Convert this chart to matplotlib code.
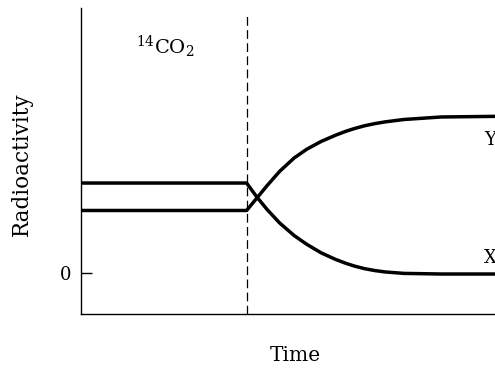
import matplotlib.pyplot as plt

plt.rcParams['font.family'] = ['DejaVu Serif']
plt.rcParams['mathtext.fontset'] = 'dejavuserif'

# Schematic values (arbitrary units)
time = [0, 4.0, 4.25, 4.5, 4.8, 5.15, 5.45, 5.8, 6.15, 6.4, 6.6, 6.85,
        7.1, 7.35, 7.8, 8.7, 10]
y_curve = [40, 40, 48, 56, 65, 73.5, 79, 84, 88, 90.5, 92.2, 94,
           95.4, 96.5, 98, 99.6, 100]
x_curve = [57.5, 57.5, 48.5, 40.5, 32, 24, 18.5, 13, 8.8, 6.3, 4.6, 2.9,
           1.7, 0.8, -0.1, -0.5, -0.5]
pulse_end = 4
curve_labels = ['Y', 'X']

fig = plt.figure(figsize=(4.95, 3.69), dpi=100)
ax = fig.add_axes([0.1636, 0.149, 0.8364, 0.829])

ax.plot(time, y_curve, color='black', lw=2.5, solid_capstyle='butt')
ax.plot(time, x_curve, color='black', lw=2.5, solid_capstyle='butt')
ax.plot([pulse_end, pulse_end], [-26, 166], color='black', lw=0.9,
        dashes=(7, 3.5))

ax.text(2.03, 144, r'$^{14}$CO$_2$', ha='center', va='center', fontsize=14)
ax.text(9.88, 85, curve_labels[0], ha='center', va='center', fontsize=13)
ax.text(9.88, 9.6, curve_labels[1], ha='center', va='center', fontsize=13)

ax.set_xlim(0, 10)
ax.set_ylim(-26, 169)
ax.set_xticks([])
ax.set_yticks([0])
ax.set_yticklabels(['0'])
ax.tick_params(axis='y', direction='in', length=8, width=1.0, labelsize=13, pad=7)

for side in ['top', 'right']:
    ax.spines[side].set_visible(False)
for side in ['left', 'bottom']:
    ax.spines[side].set_linewidth(1.0)

ax.set_xlabel('Time', fontsize=14.5)
ax.set_ylabel('Radioactivity', fontsize=15.5)
ax.xaxis.set_label_coords(0.517, -0.137)
ax.yaxis.set_label_coords(-0.1425, 0.49)
ax.xaxis.label.set_va('center')
ax.yaxis.label.set_va('center')

fig.savefig('out.png', dpi=100)
